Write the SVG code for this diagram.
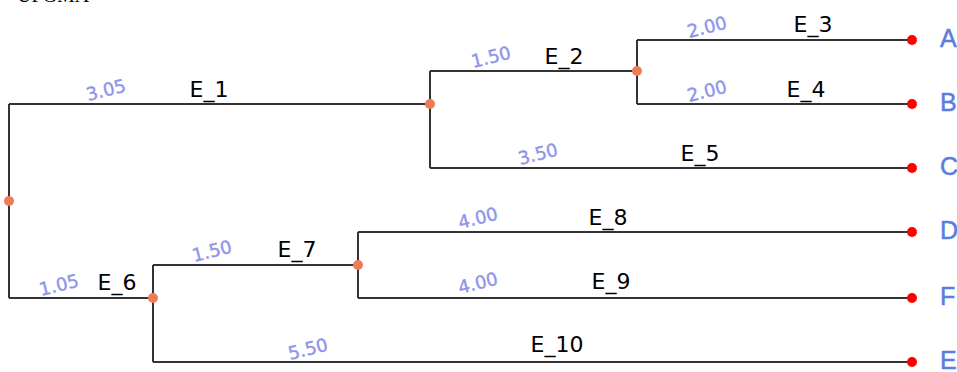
<svg xmlns="http://www.w3.org/2000/svg" width="957" height="372" viewBox="0 0 957 372">
<style>
.br{fill:none;stroke:#333;stroke-width:2}
.in{fill:#ee7d55}
.lf{fill:#ff0000}
.el{font-family:"DejaVu Sans",sans-serif;font-size:22px;fill:#000}
.w{font-family:"DejaVu Sans",sans-serif;font-size:18px;fill:#8e94ea;stroke:#8e94ea;stroke-width:0.4}
.ll{font-family:"Liberation Sans",sans-serif;font-size:25px;fill:#5a7de0;stroke:#5a7de0;stroke-width:0.5}
.t{font-family:"Liberation Serif",serif;font-size:20px;fill:#000}
</style>
<rect width="957" height="372" fill="#fff"/>
<text class="t" x="17" y="2">UPGMA</text>
<g id="edges">
<path class="br" d="M9,104V298"/>
<path class="br" d="M9,104H430"/>
<path class="br" d="M430,71V168"/>
<path class="br" d="M430,71H637"/>
<path class="br" d="M637,40V104"/>
<path class="br" d="M637,40H912"/>
<path class="br" d="M637,104H912"/>
<path class="br" d="M430,168H912"/>
<path class="br" d="M9,298H153"/>
<path class="br" d="M153,265V362"/>
<path class="br" d="M153,265H358"/>
<path class="br" d="M358,232V298"/>
<path class="br" d="M358,232H912"/>
<path class="br" d="M358,298H912"/>
<path class="br" d="M153,362H912"/>
</g>
<g id="edge-labels">
<text class="el" x="209" y="97" text-anchor="middle">E_1</text>
<text class="el" x="564" y="64" text-anchor="middle">E_2</text>
<text class="el" x="813" y="32" text-anchor="middle">E_3</text>
<text class="el" x="806" y="97" text-anchor="middle">E_4</text>
<text class="el" x="700" y="161" text-anchor="middle">E_5</text>
<text class="el" x="117" y="290" text-anchor="middle">E_6</text>
<text class="el" x="297" y="257" text-anchor="middle">E_7</text>
<text class="el" x="608" y="225" text-anchor="middle">E_8</text>
<text class="el" x="611" y="289" text-anchor="middle">E_9</text>
<text class="el" x="557" y="352" text-anchor="middle">E_10</text>
</g>
<g id="weights">
<text class="w" transform="translate(88,101) rotate(-14)">3.05</text>
<text class="w" transform="translate(473,68) rotate(-14)">1.50</text>
<text class="w" transform="translate(689,38) rotate(-14)">2.00</text>
<text class="w" transform="translate(689,102) rotate(-14)">2.00</text>
<text class="w" transform="translate(520,165) rotate(-14)">3.50</text>
<text class="w" transform="translate(41,296) rotate(-14)">1.05</text>
<text class="w" transform="translate(194,262) rotate(-14)">1.50</text>
<text class="w" transform="translate(290,360) rotate(-14)">5.50</text>
<text class="w" transform="translate(460,229) rotate(-14)">4.00</text>
<text class="w" transform="translate(460,294) rotate(-14)">4.00</text>
</g>
<g id="root"><circle class="in" cx="9" cy="201" r="5"/></g>
<g id="n1"><circle class="in" cx="430" cy="104" r="5"/></g>
<g id="n2"><circle class="in" cx="637" cy="71" r="5"/></g>
<g id="n6"><circle class="in" cx="153" cy="298" r="5"/></g>
<g id="n7"><circle class="in" cx="358" cy="265" r="5"/></g>
<g id="A"><circle class="lf" cx="912" cy="40" r="5"/><text class="ll" x="940" y="47">A</text></g>
<g id="B"><circle class="lf" cx="912" cy="104" r="5"/><text class="ll" x="940" y="111">B</text></g>
<g id="C"><circle class="lf" cx="912" cy="168" r="5"/><text class="ll" x="940" y="175">C</text></g>
<g id="D"><circle class="lf" cx="912" cy="232" r="5"/><text class="ll" x="940" y="239">D</text></g>
<g id="F"><circle class="lf" cx="912" cy="298" r="5"/><text class="ll" x="940" y="305">F</text></g>
<g id="E"><circle class="lf" cx="912" cy="362" r="5"/><text class="ll" x="940" y="369">E</text></g>
</svg>
